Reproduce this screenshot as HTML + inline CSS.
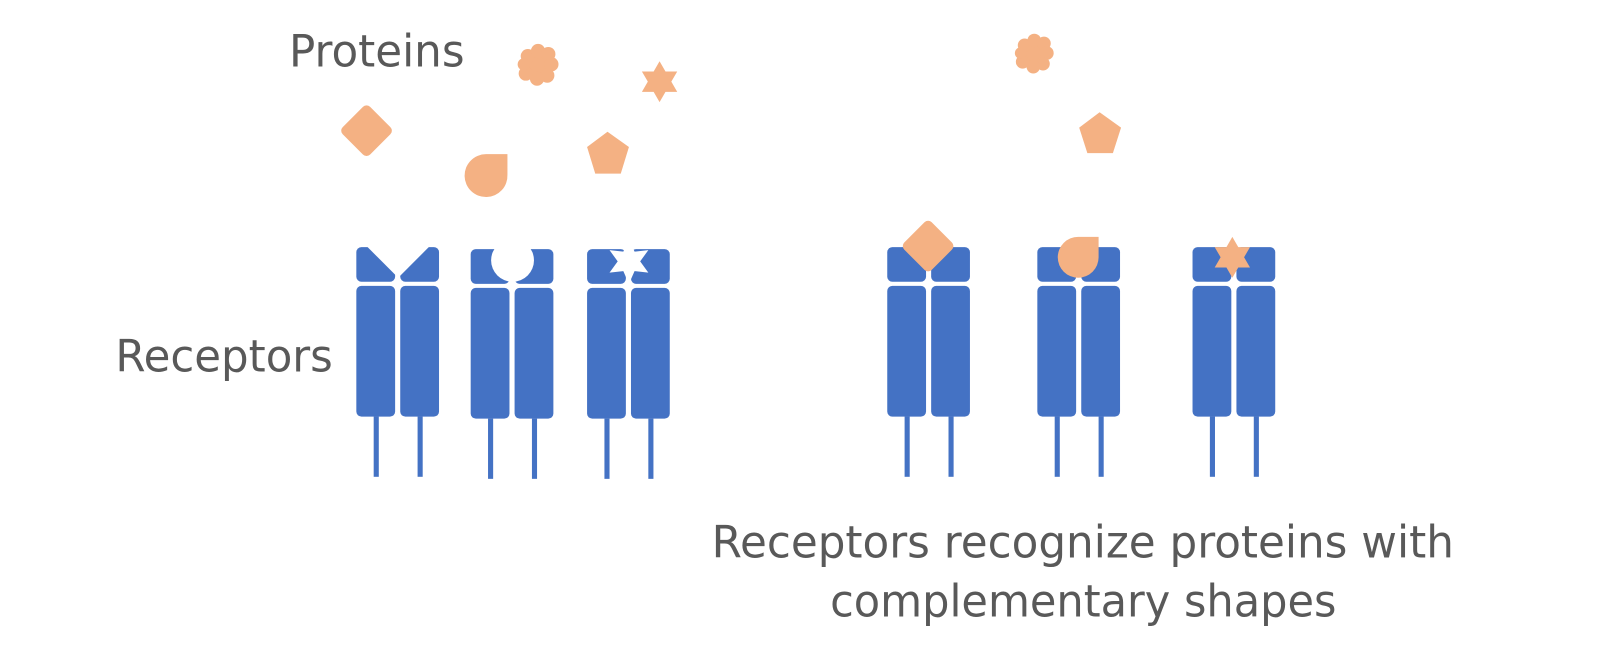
<!DOCTYPE html>
<html><head><style>
html,body{margin:0;padding:0;background:#fff;}
svg{display:block;}
text{font-family:"DejaVu Sans","Liberation Sans",sans-serif;fill:#595959;}
</style></head><body>
<svg width="1601" height="658" viewBox="0 0 1601 658" xmlns="http://www.w3.org/2000/svg">
<defs>
  <g id="rec">
    <rect x="0" y="0" width="38" height="34" rx="5" fill="#4472c4"/>
    <rect x="43" y="0" width="38" height="34" rx="5" fill="#4472c4"/>
    <rect x="0" y="38" width="38" height="128" rx="5" fill="#4472c4"/>
    <rect x="43" y="38" width="38" height="128" rx="5" fill="#4472c4"/>
    <rect x="17" y="166" width="5" height="59" fill="#4472c4"/>
    <rect x="60" y="166" width="5" height="59" fill="#4472c4"/>
  </g>
</defs>
<g transform="scale(1.021)">
<text x="283" y="65" font-size="44" textLength="172" lengthAdjust="spacingAndGlyphs">Proteins</text>
<text x="113" y="364" font-size="44" textLength="213" lengthAdjust="spacingAndGlyphs">Receptors</text>
<text x="697" y="546" font-size="44" textLength="727" lengthAdjust="spacingAndGlyphs">Receptors recognize proteins with</text>
<text x="813" y="604" font-size="44" textLength="496" lengthAdjust="spacingAndGlyphs">complementary shapes</text>

<use href="#rec" x="349" y="242"/>
<polygon points="358,240 390,272 422,240" fill="#fff"/>
<use href="#rec" x="461" y="244"/>
<circle cx="502" cy="255" r="21" fill="#fff"/>
<use href="#rec" x="575" y="244"/>
<polygon fill="#fff" transform="translate(616,256)" points="0,-22 5.5,-9.5 19,-11 11,0 19,11 5.5,9.5 0,22 -5.5,9.5 -19,11 -11,0 -19,-11 -5.5,-9.5"/>

<use href="#rec" x="869" y="242"/>
<use href="#rec" x="1016" y="242"/>
<use href="#rec" x="1168" y="242"/>

<g fill="#f4b183">
  <rect x="340" y="109" width="38" height="38" rx="5" transform="rotate(45 359 128)"/>
  <path d="M476,151 L497,151 L497,171 A21,21 0 1 1 476,151 Z"/>
  <polygon points="595,129 616,144 608,170 583,170 575,144"/>
  <polygon transform="translate(646,80)" points="0,-20 5.8,-10 17.3,-10 11.5,0 17.3,10 5.8,10 0,20 -5.8,10 -17.3,10 -11.5,0 -17.3,-10 -5.8,-10"/>
  <g transform="translate(527,63)">
    <circle r="14"/><circle cx="-10" cy="-8" r="7"/><circle cx="0" cy="-13" r="7"/><circle cx="10" cy="-10" r="7"/>
    <circle cx="13" cy="0" r="7"/><circle cx="9" cy="11" r="7"/><circle cx="-1" cy="14" r="7"/><circle cx="-12" cy="9" r="7"/><circle cx="-14" cy="0" r="6"/>
  </g>
  <g transform="translate(1013,52) scale(0.95)">
    <circle r="14"/><circle cx="-10" cy="-8" r="7"/><circle cx="0" cy="-13" r="7"/><circle cx="10" cy="-10" r="7"/>
    <circle cx="13" cy="0" r="7"/><circle cx="9" cy="11" r="7"/><circle cx="-1" cy="14" r="7"/><circle cx="-12" cy="9" r="7"/><circle cx="-14" cy="0" r="6"/>
  </g>
  <polygon points="1077,110 1098,125 1090,150 1065,150 1057,125"/>
  <rect x="890" y="222" width="38" height="38" rx="5" transform="rotate(45 909 241)"/>
  <path d="M1056,232 L1076,232 L1076,252 A20,20 0 1 1 1056,232 Z"/>
  <polygon transform="translate(1207,252)" points="0,-20 5.8,-10 17.3,-10 11.5,0 17.3,10 5.8,10 0,20 -5.8,10 -17.3,10 -11.5,0 -17.3,-10 -5.8,-10"/>
</g>
</g>
</svg>
</body></html>
